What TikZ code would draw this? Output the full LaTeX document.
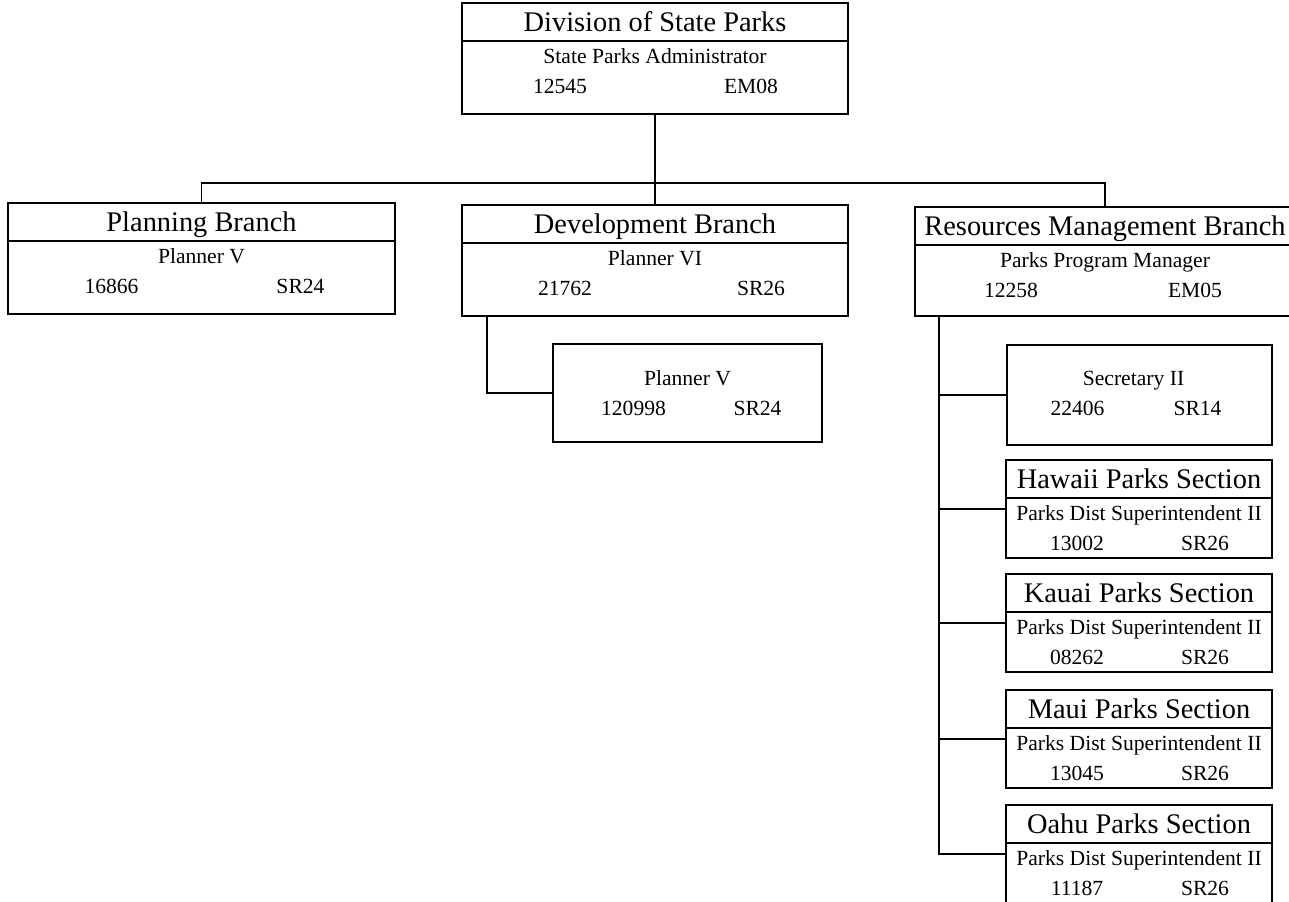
\documentclass[tikz,border=0pt]{standalone}
\usepackage{fontspec}
\setmainfont{Liberation Serif}
\usetikzlibrary{calc}
\tikzset{
  box/.style={
    draw,
    inner sep=0pt
  },
  head/.style={
    font=\fontsize{14.2}{16}\selectfont,
    inner sep=0pt,
    text height=0.66em,
    text depth=0pt
  },
  info/.style={
    font=\fontsize{10.8}{13}\selectfont,
    inner sep=0pt,
    text height=0.66em,
    text depth=0pt
  }
}

\begin{document}
\begin{tikzpicture}[x=0.5pt,y=-0.5pt,line width=0.9pt]
\useasboundingbox (0,0) rectangle (1289,901);
\clip (0,0) rectangle (1289,901);
% boxes
\node[box, minimum width=193pt, minimum height=55.5pt] (div) at (655,58.5) {};
\node[box, minimum width=193.5pt, minimum height=55.5pt] (plan) at (201.5,258.5) {};
\node[box, minimum width=193pt, minimum height=55.5pt] (dev) at (655,260.5) {};
\node[box, minimum width=190pt, minimum height=54.5pt] (res) at (1105,261.5) {};
\node[box, minimum width=134.5pt, minimum height=49pt] (devsub) at (687.5,393) {};
\node[box, minimum width=132.5pt, minimum height=50pt] (sec) at (1139.5,395) {};
\foreach \b/\y in {hawaii/509, kauai/623, maui/739, oahu/854}
  \node[box, minimum width=133pt, minimum height=49pt] (\b) at (1139,\y) {};

% titled boxes
\foreach \b/\t/\j/\n/\g/\dn/\dg in {
    div/Division of State Parks/State Parks Administrator/12545/EM08/-95/96,
    plan/Planning Branch/Planner V/16866/SR24/-90/99,
    dev/Development Branch/Planner VI/21762/SR26/-90/106,
    res/Resources Management Branch/Parks Program Manager/12258/EM05/-94/90,
    hawaii/Hawaii Parks Section/Parks Dist Superintendent II/13002/SR26/-62/66,
    kauai/Kauai Parks Section/Parks Dist Superintendent II/08262/SR26/-62/66,
    maui/Maui Parks Section/Parks Dist Superintendent II/13045/SR26/-62/66,
    oahu/Oahu Parks Section/Parks Dist Superintendent II/11187/SR26/-62/66} {
  \node[head] (\b-t) at ($(\b.north)+(0,23)$) {\t};
  \draw ($(\b.north west)+(0,39)$) -- ($(\b.north east)+(0,39)$);
  \node[info] (\b-j) at ($(\b.north)+(0,55)$) {\j};
  \node[info] (\b-n) at ($(\b.north)+(\dn,85)$) {\n};
  \node[info] (\b-g) at ($(\b.north)+(\dg,85)$) {\g};
}

% plain boxes
\node[info] (devsub-j) at ($(devsub.north)+(0,36)$) {Planner V};
\node[info] (devsub-n) at ($(devsub.north)+(-54,66)$) {120998};
\node[info] (devsub-g) at ($(devsub.north)+(70,66)$) {SR24};
\node[info] (sec-j) at ($(sec.north)+(-6,35)$) {Secretary II};
\node[info] (sec-n) at ($(sec.north)+(-62,65)$) {22406};
\node[info] (sec-g) at ($(sec.north)+(58,65)$) {SR14};

% connectors
\coordinate (bus) at (655,183);
\draw (div.south) -- (bus);
\draw (plan.north) |- (bus) -| (res.north);
\draw (dev.north) -- (bus);
\draw ($(dev.south west)+(26,0)$) |- (devsub.west);
\coordinate (spine) at ($(res.south west)+(25,0)$);
\draw (spine) |- (oahu.west);
\foreach \b in {sec,hawaii,kauai,maui}
  \draw (spine |- \b.west) -- (\b.west);
\end{tikzpicture}
\end{document}
